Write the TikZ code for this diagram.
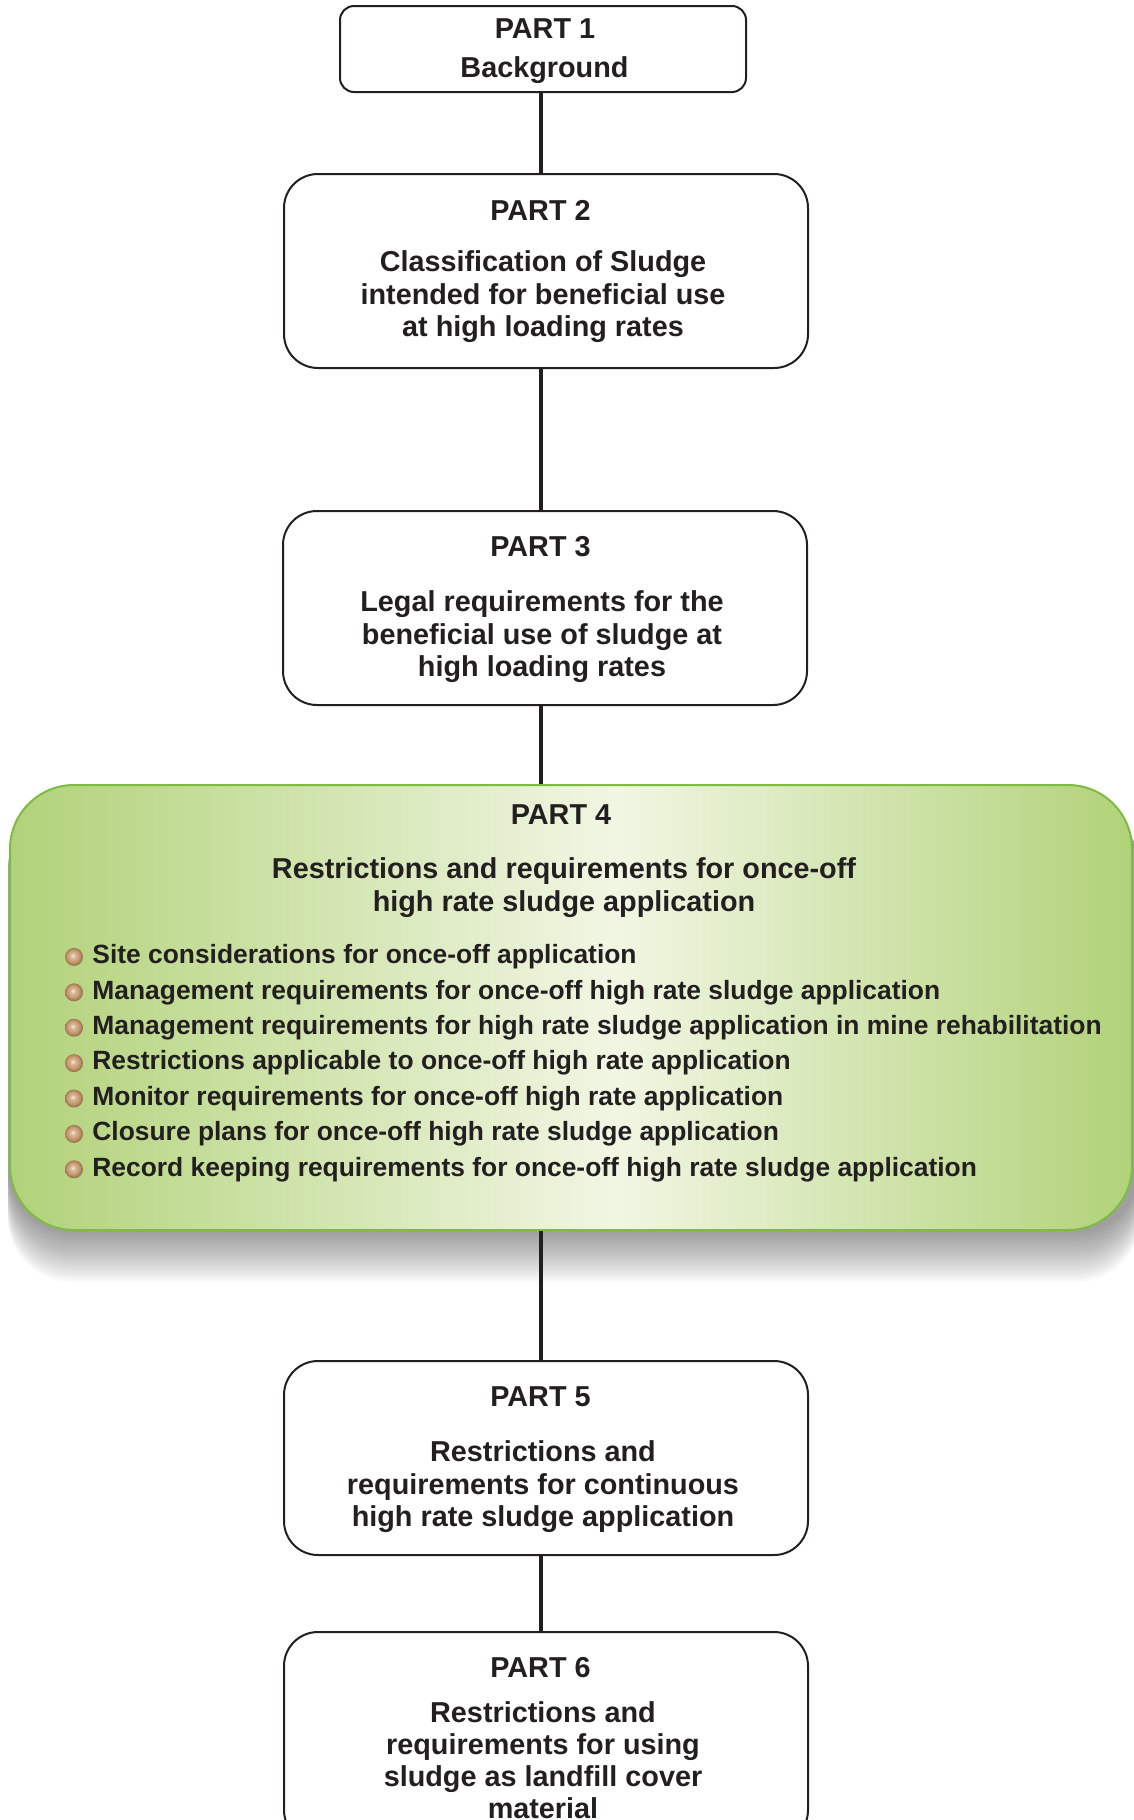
\documentclass[tikz,border=0pt]{standalone}
\usepackage{fontspec}
\setmainfont{Liberation Sans}
\usetikzlibrary{calc}
\definecolor{ink}{HTML}{231F20}
\definecolor{gborder}{HTML}{7DBB42}
\definecolor{gedge}{HTML}{B1D279}
\definecolor{gmid}{HTML}{F1F6E3}
\definecolor{ballc}{HTML}{C7986B}
\pgfdeclarehorizontalshading{gshade}{100bp}{color(0bp)=(gedge); color(25bp)=(gedge); color(52bp)=(gmid); color(75bp)=(gedge); color(100bp)=(gedge)}
\pgfdeclareradialshading{bulshade}{\pgfpoint{-4bp}{4bp}}{color(0bp)=(white!80!ballc); color(7bp)=(ballc!70!white); color(17bp)=(ballc); color(25bp)=(ballc!75!black); color(50bp)=(ballc!75!black)}
\begin{document}
\begin{tikzpicture}[x=0.5pt,y=-0.5pt,
  box/.style={draw=ink, line width=1pt, rounded corners=17pt, fill=white,
    minimum width=262pt, minimum height=97pt, inner sep=0pt},
  txt/.style={align=center, text=ink, inner sep=0pt,
    font=\bfseries\fontsize{14.4}{16.25}\selectfont},
  link/.style={draw=ink, line width=1.6pt},
  bul/.style={anchor=west, font=\bfseries\fontsize{13.2}{15}\selectfont, text=ink, inner sep=0pt},
  ball/.style={circle, minimum size=9pt, inner sep=0pt, shading=bulshade, draw=none},
  gtitle/.style={align=center, text=ink, font=\bfseries\fontsize{14.4}{16.5}\selectfont, inner sep=0pt}]
\useasboundingbox (0,0) rectangle (1134,1820);
\clip (0,0) rectangle (1134,1820);
\coordinate (axis) at (541,0);
% shadow of part 4
\foreach \i in {1,...,20}
  \fill[black, opacity=0.025, rounded corners=32pt] (8,805) rectangle (1140,1230+2.6*\i);
% boxes
\node[box, minimum width=203pt, minimum height=43pt, rounded corners=7pt] (b1) at (543,49) {};
\node[box] (b2) at (546,271) {};
\node[box] (b3) at (545,608) {};
\node[box] (b5) at (546,1458) {};
\node[box, minimum height=106pt] (b6) at (546,1738) {};
\node[draw=gborder, line width=1pt, rounded corners=32pt, shading=gshade,
  minimum width=561pt, minimum height=222.5pt, inner sep=0pt] (b4) at (571,1007.5) {};
% connectors
\draw[link] (b1.south -| axis) -- (b2.north -| axis);
\draw[link] (b2.south -| axis) -- (b3.north -| axis);
\draw[link] (b3.south -| axis) -- (b4.north -| axis);
\draw[link] (b4.south -| axis) -- (b5.north -| axis);
\draw[link] (b5.south -| axis) -- (b6.north -| axis);
% texts
\node[txt] (p1) at (545,29) {PART 1};
\node[txt] (t1) at (544.5,70) {Background};
\node[txt] (p2) at (540.5,210) {PART 2};
\node[txt] (t2) at (543,297) {Classification of Sludge\\intended for beneficial use\\at high loading rates};
\node[txt] (p3) at (540.5,547) {PART 3};
\node[txt] (t3) at (542,637) {Legal requirements for the\\beneficial use of sludge at\\high loading rates};
\node[txt] (p5) at (540.5,1397) {PART 5};
\node[txt] (t5) at (543,1487) {Restrictions and\\requirements for continuous\\high rate sludge application};
\node[txt] (p6) at (540.5,1668) {PART 6};
\node[txt, font=\bfseries\fontsize{14.4}{16}\selectfont] (t6) at (543,1760) {Restrictions and\\requirements for using\\sludge as landfill cover\\material};
% part 4 content
\node[gtitle] (p4) at (561,815) {PART 4};
\node[gtitle] (p4t) at (564,888) {Restrictions and requirements for once-off\\high rate sludge application};
\foreach \t [count=\k] in {Site considerations for once-off application,
  Management requirements for once-off high rate sludge application,
  Management requirements for high rate sludge application in mine rehabilitation,
  Restrictions applicable to once-off high rate application,
  Monitor requirements for once-off high rate application,
  Closure plans for once-off high rate sludge application,
  Record keeping requirements for once-off high rate sludge application}{
  \node[ball] (d\k) at (74,921.5+35.4*\k) {};
  \node[bul] (i\k) at (92,921.5+35.4*\k) {\t};
}
\end{tikzpicture}
\end{document}
